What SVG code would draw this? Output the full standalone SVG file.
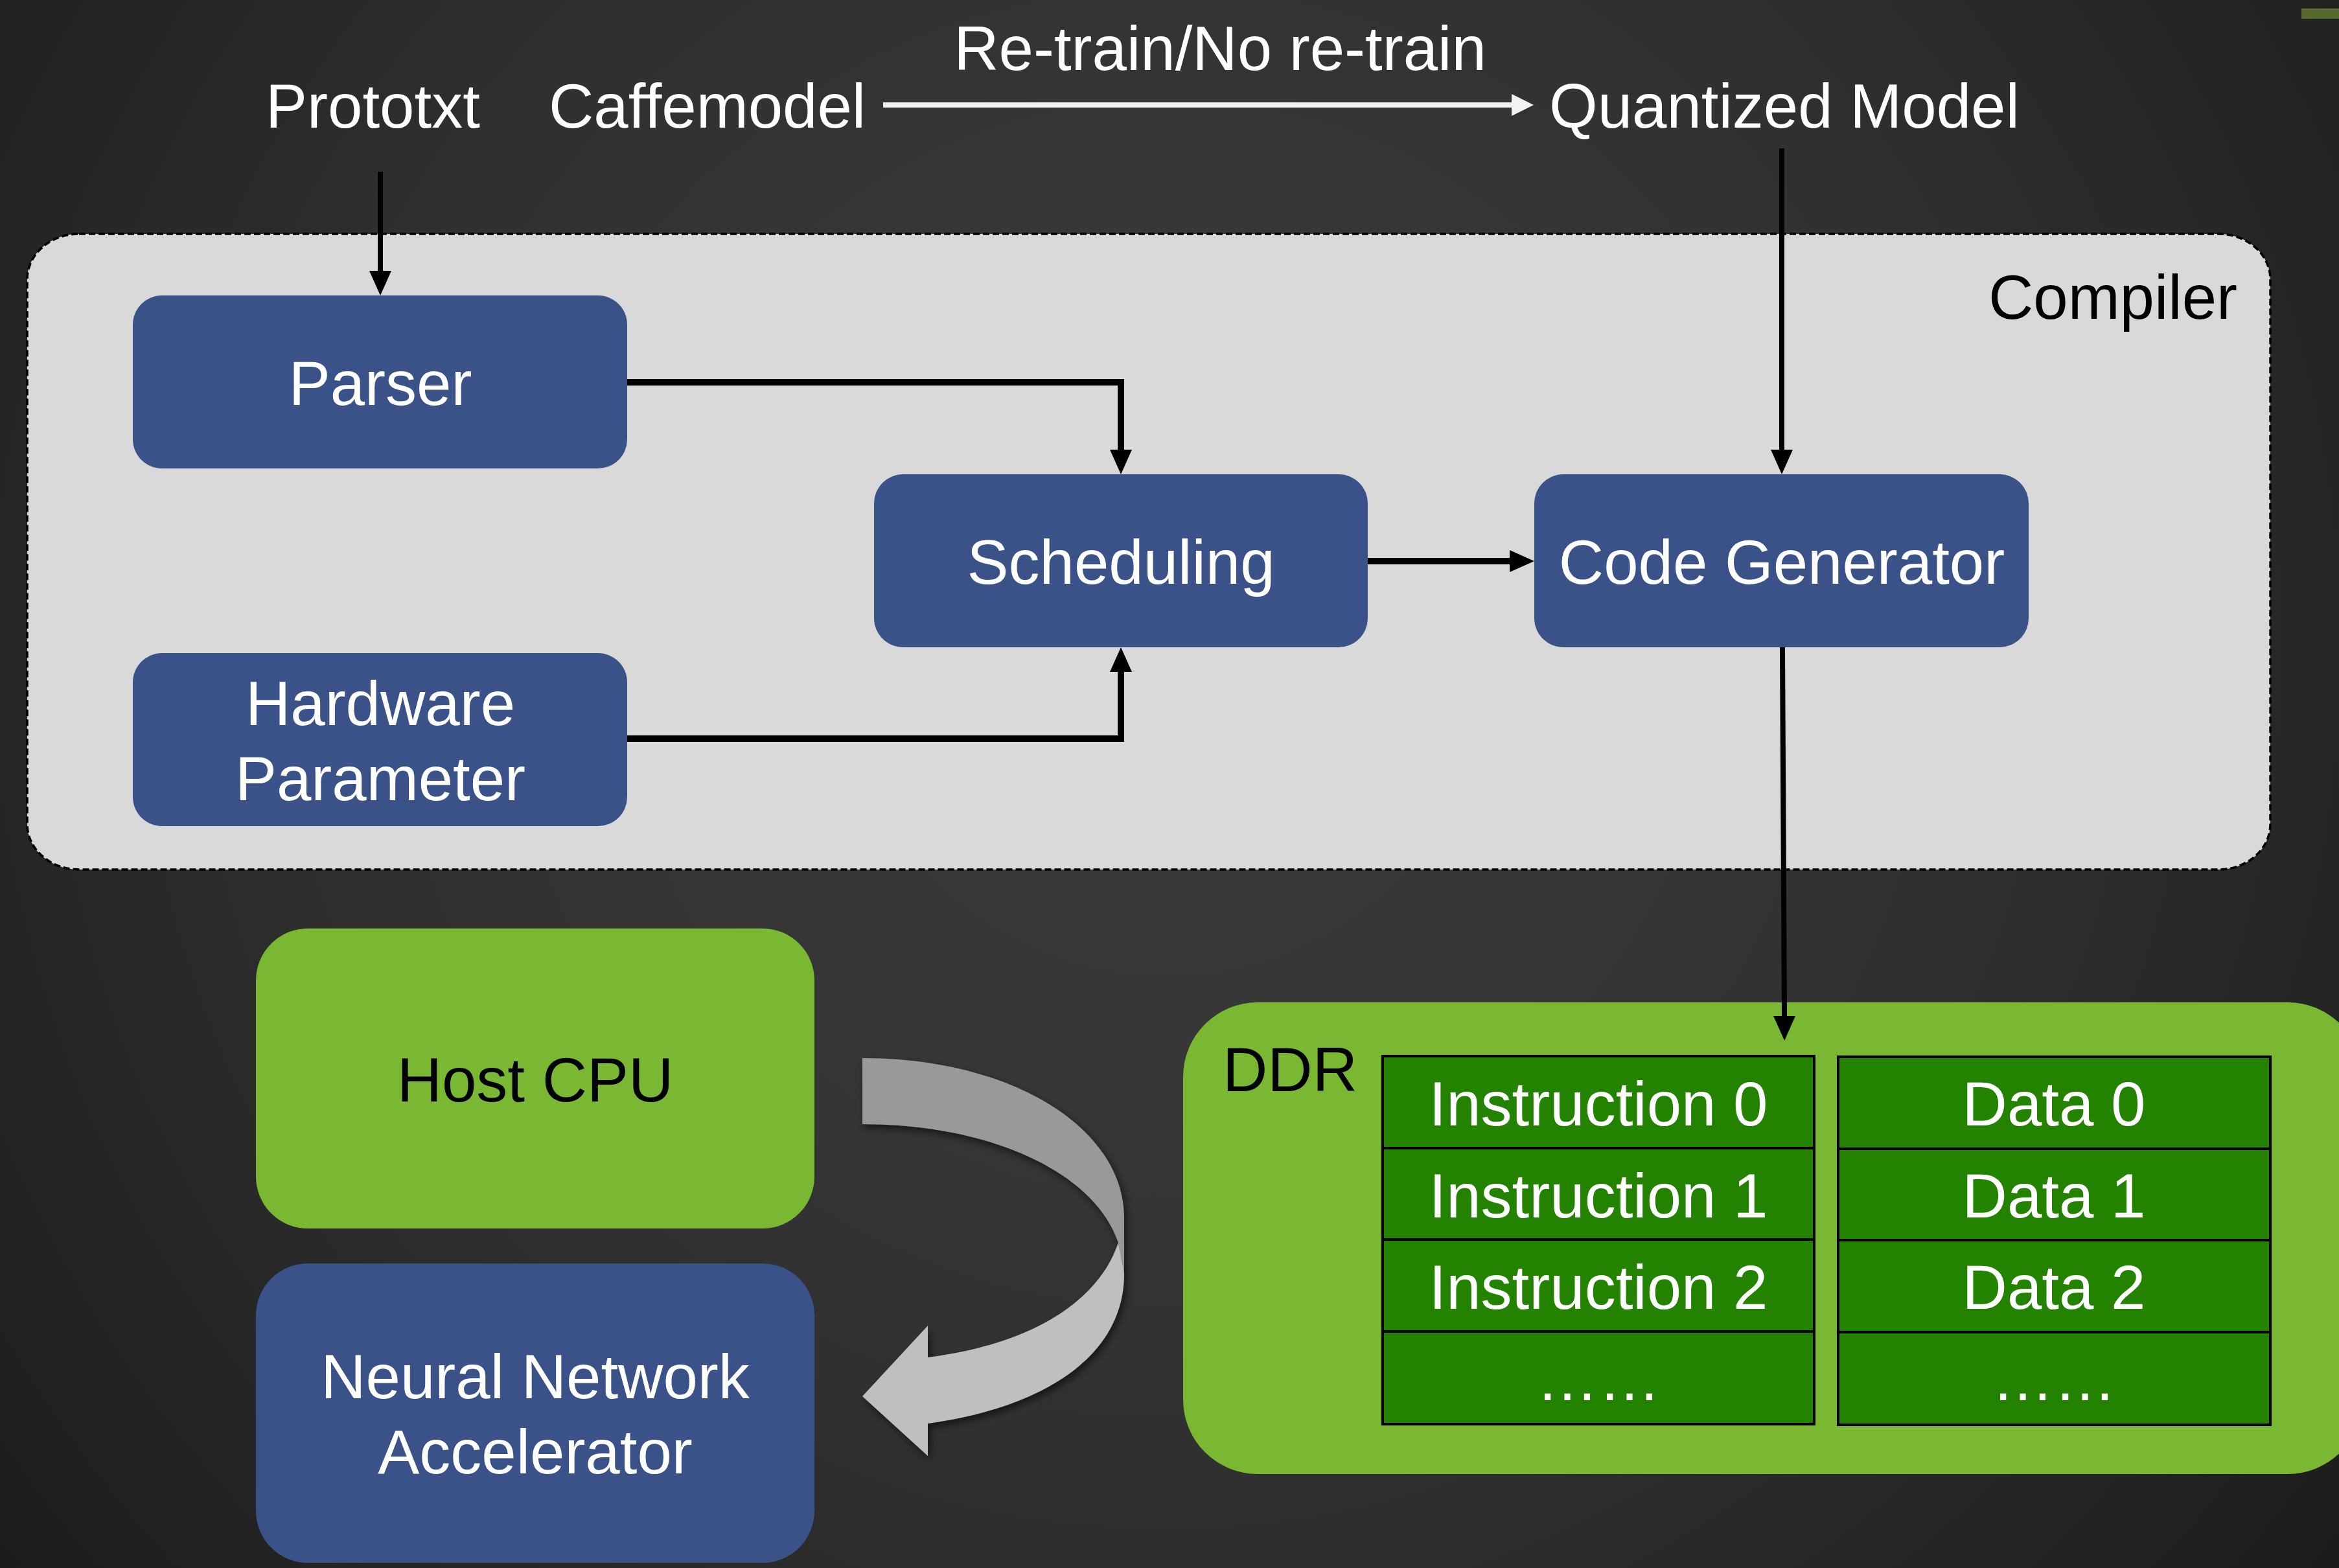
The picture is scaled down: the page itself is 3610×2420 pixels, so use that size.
<svg xmlns="http://www.w3.org/2000/svg" width="3610" height="2420" viewBox="0 0 3610 2420">
  <defs>
    <radialGradient id="bg" cx="1800" cy="1000" r="2300" gradientUnits="userSpaceOnUse">
      <stop offset="0" stop-color="#3d3d3d"/>
      <stop offset="0.55" stop-color="#303030"/>
      <stop offset="1" stop-color="#1c1c1c"/>
    </radialGradient>
    <marker id="headBlack" viewBox="0 0 38 34" refX="0" refY="17" markerWidth="38" markerHeight="34" markerUnits="userSpaceOnUse" orient="auto">
      <path d="M0,0 L38,17 L0,34 Z" fill="#000"/>
    </marker>
    <marker id="headWhite" viewBox="0 0 34 34" refX="0" refY="17" markerWidth="34" markerHeight="34" markerUnits="userSpaceOnUse" orient="auto">
      <path d="M0,0 L34,17 L0,34 Z" fill="#f2f2f2"/>
    </marker>
    <filter id="soft" x="-20%" y="-20%" width="140%" height="140%">
      <feDropShadow dx="4" dy="6" stdDeviation="6" flood-color="#000" flood-opacity="0.55"/>
    </filter>
    <style>
      text { font-family: "Liberation Sans", Arial, sans-serif; font-size: 96px; }
      .w { fill: #ffffff; }
      .k { fill: #000000; }
      .mid { text-anchor: middle; }
      .blue { fill: #3b5289; }
      .green { fill: #7ab733; }
      .cell { fill: #238300; stroke: #000; stroke-width: 4; }
      .wire { fill: none; stroke: #000; stroke-width: 10; }
      .thin { fill: none; stroke: #000; stroke-width: 8; }
    </style>
  </defs>

  <!-- backdrop -->
  <rect x="0" y="0" width="3610" height="2420" fill="url(#bg)"/>
  <rect x="3552" y="13" width="58" height="16" fill="#566a2e"/>

  <!-- model inputs -->
  <g id="inputs">
    <text class="w" x="410" y="197">Prototxt</text>
    <text class="w" x="847" y="197">Caffemodel</text>
    <text class="w mid" x="1883" y="108">Re-train/No re-train</text>
    <text class="w" x="2391" y="197">Quantized Model</text>
  </g>

  <!-- compiler container -->
  <g id="compiler">
    <rect x="42" y="361" width="3462" height="981" rx="80" ry="70" fill="#d9d9d9" stroke="#000" stroke-width="3.5" stroke-dasharray="10 5"/>
    <text class="k" x="3453" y="492" text-anchor="end">Compiler</text>
  </g>

  <g id="parser">
    <rect class="blue" x="205" y="456" width="763" height="267" rx="45"/>
    <text class="w mid" x="587" y="625">Parser</text>
  </g>

  <g id="hardware-parameter">
    <rect class="blue" x="205" y="1008" width="763" height="267" rx="45"/>
    <text class="w mid" x="587" y="1119">Hardware</text>
    <text class="w mid" x="587" y="1235">Parameter</text>
  </g>

  <g id="scheduling">
    <rect class="blue" x="1349" y="732" width="762" height="267" rx="45"/>
    <text class="w mid" x="1730" y="901">Scheduling</text>
  </g>

  <g id="code-generator">
    <rect class="blue" x="2368" y="732" width="763" height="267" rx="45"/>
    <text class="w mid" x="2750" y="901">Code Generator</text>
  </g>

  <!-- runtime side -->
  <g id="host-cpu">
    <rect class="green" x="395" y="1433" width="862" height="463" rx="80"/>
    <text class="k mid" x="826" y="1700">Host CPU</text>
  </g>

  <g id="nn-accelerator">
    <rect class="blue" x="395" y="1950" width="862" height="462" rx="80"/>
    <text class="w mid" x="826" y="2158">Neural Network</text>
    <text class="w mid" x="826" y="2274">Accelerator</text>
  </g>

  <g id="ddr">
    <rect class="green" x="1826" y="1547" width="1820" height="728" rx="115"/>
    <text class="k" x="1887" y="1684">DDR</text>
  </g>

  <g id="instructions">
    <rect class="cell" x="2134" y="1630" width="666" height="142"/>
    <rect class="cell" x="2134" y="1772" width="666" height="141"/>
    <rect class="cell" x="2134" y="1913" width="666" height="142"/>
    <rect class="cell" x="2134" y="2055" width="666" height="143"/>
    <text class="w mid" x="2467" y="1737">Instruction 0</text>
    <text class="w mid" x="2467" y="1879">Instruction 1</text>
    <text class="w mid" x="2467" y="2020">Instruction 2</text>
    <text class="w mid" x="2467" y="2161">……</text>
  </g>

  <g id="data">
    <rect class="cell" x="2837" y="1631" width="667" height="142"/>
    <rect class="cell" x="2837" y="1773" width="667" height="141"/>
    <rect class="cell" x="2837" y="1914" width="667" height="142"/>
    <rect class="cell" x="2837" y="2056" width="667" height="143"/>
    <text class="w mid" x="3170" y="1737">Data 0</text>
    <text class="w mid" x="3170" y="1879">Data 1</text>
    <text class="w mid" x="3170" y="2020">Data 2</text>
    <text class="w mid" x="3170" y="2161">……</text>
  </g>

  <!-- connectors -->
  <g id="connectors">
    <path d="M1363,162 H2333" fill="none" stroke="#f2f2f2" stroke-width="8" marker-end="url(#headWhite)"/>
    <path class="thin" d="M587,265 V418" marker-end="url(#headBlack)"/>
    <path class="thin" d="M2750,229 V694" marker-end="url(#headBlack)"/>
    <path class="wire" d="M968,590 H1730 V694" marker-end="url(#headBlack)"/>
    <path class="wire" d="M968,1140 H1730 V1037" marker-end="url(#headBlack)"/>
    <path class="wire" d="M2111,866 H2330" marker-end="url(#headBlack)"/>
    <path class="thin" d="M2751,999 L2754,1568" marker-end="url(#headBlack)"/>

    <!-- curved hand-off arrow from host to accelerator -->
    <g filter="url(#soft)">
      <path d="M1331,1633 C1560,1633 1735,1740 1735,1880 L1735,1966 L1726,1918 C1690,1810 1530,1735 1331,1735 Z" fill="#999999"/>
      <path d="M1726,1918 C1695,2010 1590,2075 1432,2095 L1432,2046 L1331,2155 L1432,2247 L1432,2197 C1625,2170 1735,2085 1735,1966 Z" fill="#bfbfbf"/>
    </g>
  </g>
</svg>
